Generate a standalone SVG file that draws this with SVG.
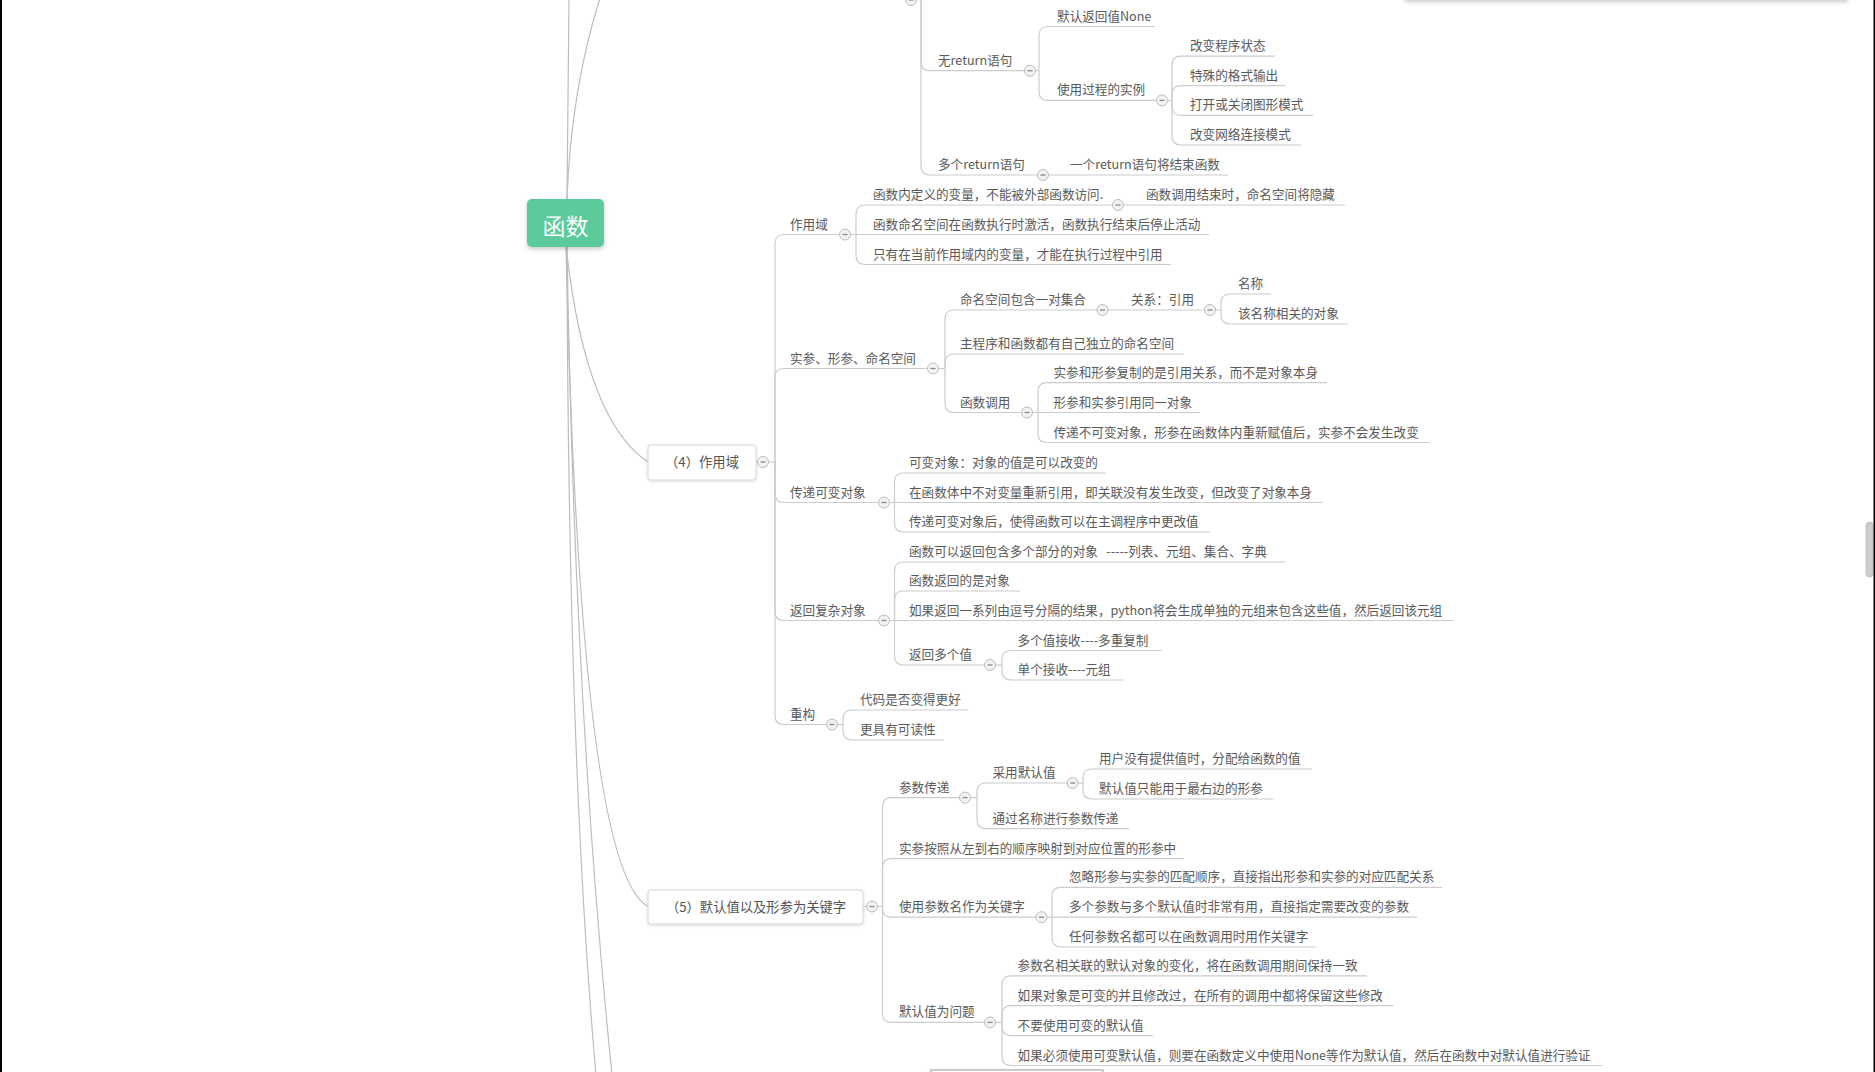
<svg xmlns="http://www.w3.org/2000/svg" xmlns:xlink="http://www.w3.org/1999/xlink" width="1875" height="1072" viewBox="0 0 1875 1072">
<defs>
<style>
.t{font-family:"Noto Sans CJK SC","Microsoft YaHei",sans-serif;font-size:12.6px;fill:#5a5a5a}
.bt{font-family:"Noto Sans CJK SC","Microsoft YaHei",sans-serif;font-size:13.3px;fill:#555}
.ln{fill:none;stroke:#cccccc;stroke-width:1.2}
.rl{fill:none;stroke:#bdbdbd;stroke-width:1.2}
.box{fill:#fff;stroke:#d6d6d6;stroke-width:1}
</style>
<filter id="sh" x="-20%" y="-20%" width="140%" height="160%"><feDropShadow dx="0" dy="2" stdDeviation="2" flood-color="#000" flood-opacity="0.22"/></filter>
<filter id="sh2" x="-10%" y="-20%" width="120%" height="160%"><feDropShadow dx="0" dy="1" stdDeviation="1.5" flood-color="#000" flood-opacity="0.15"/></filter>
<g id="btn"><circle r="5.5" fill="#f2f2f2" stroke="#bdbdbd" stroke-width="1"/><line x1="-2.5" y1="0" x2="2.5" y2="0" stroke="#8a8a8a" stroke-width="1.3"/></g>
</defs>
<rect x="0" y="0" width="1875" height="1072" fill="#fff"/>

<g id="connectors">
<!-- root -->
<path class="rl" d="M567,199 L569,-2"/>
<path class="rl" d="M567,199 Q571,90 600,-2"/>
<path class="rl" d="M566,246 Q585,420 648,462"/>
<path class="rl" d="M566,246 Q580,870 648,906.5"/>
<path class="rl" d="M567,246 Q568,760 596,1075"/>
<path class="rl" d="M567,246 Q574,700 612,1075"/>
<!-- top section -->
<path class="ln" d="M921,-5 V61.7 Q921,70.7 930,70.7 H1030"/>
<path class="ln" d="M921,-5 V166 Q921,175 930,175 H1043"/>
<path class="ln" d="M1035.5,70.7 H1039"/>
<path class="ln" d="M1039,70.7 V35.5 Q1039,26.5 1048,26.5 H1155"/>
<path class="ln" d="M1039,70.7 V91.4 Q1039,100.4 1048,100.4 H1162"/>
<path class="ln" d="M1167.5,100.4 H1172"/>
<path class="ln" d="M1172,100.4 V65.2 Q1172,56.2 1181,56.2 H1275"/>
<path class="ln" d="M1172,100.4 V94.7 Q1172,85.7 1181,85.7 H1285"/>
<path class="ln" d="M1172,100.4 V106.3 Q1172,115.3 1181,115.3 H1313"/>
<path class="ln" d="M1172,100.4 V136 Q1172,145 1181,145 H1301"/>
<path class="ln" d="M1048.5,175 H1228"/>
<!-- (4) -->
<path class="ln" d="M756,462 H775"/>
<path class="ln" d="M775,462 V243.5 Q775,234.5 784,234.5 H845"/>
<path class="ln" d="M775,462 V377.5 Q775,368.5 784,368.5 H933"/>
<path class="ln" d="M775,462 V493.5 Q775,502.5 784,502.5 H884"/>
<path class="ln" d="M775,462 V611.5 Q775,620.5 784,620.5 H884"/>
<path class="ln" d="M775,462 V715.5 Q775,724.5 784,724.5 H832"/>
<path class="ln" d="M850.5,234.5 H1209"/>
<path class="ln" d="M856,234.5 V214 Q856,205 865,205 H1118"/>
<path class="ln" d="M856,234.5 V255.5 Q856,264.5 865,264.5 H1171"/>
<path class="ln" d="M1123.5,205 H1345"/>
<path class="ln" d="M938.5,368.5 H945"/>
<path class="ln" d="M945,368.5 V319 Q945,310 954,310 H1102.5"/>
<path class="ln" d="M945,368.5 V363 Q945,354 954,354 H1184"/>
<path class="ln" d="M945,368.5 V403.5 Q945,412.5 954,412.5 H1027"/>
<path class="ln" d="M1108,310 H1210"/>
<path class="ln" d="M1215.5,310 H1221"/>
<path class="ln" d="M1221,310 V303 Q1221,294 1230,294 H1271"/>
<path class="ln" d="M1221,310 V315 Q1221,324 1230,324 H1348"/>
<path class="ln" d="M1032.5,412.5 H1200"/>
<path class="ln" d="M1038,412.5 V391.7 Q1038,382.7 1047,382.7 H1327"/>
<path class="ln" d="M1038,412.5 V433.5 Q1038,442.5 1047,442.5 H1429"/>
<path class="ln" d="M889.5,502.5 H1322.5"/>
<path class="ln" d="M894.5,502.5 V482 Q894.5,473 903.5,473 H1106"/>
<path class="ln" d="M894.5,502.5 V523 Q894.5,532 903.5,532 H1210"/>
<path class="ln" d="M889.5,620.5 H1453"/>
<path class="ln" d="M894.5,620.5 V571 Q894.5,562 903.5,562 H1285"/>
<path class="ln" d="M894.5,620.5 V600 Q894.5,591 903.5,591 H1020"/>
<path class="ln" d="M894.5,620.5 V656 Q894.5,665 903.5,665 H990"/>
<path class="ln" d="M995.5,665 H1002"/>
<path class="ln" d="M1002,665 V659.5 Q1002,650.5 1011,650.5 H1162"/>
<path class="ln" d="M1002,665 V671 Q1002,680 1011,680 H1124"/>
<path class="ln" d="M837.5,724.5 H843"/>
<path class="ln" d="M843,724.5 V719 Q843,710 852,710 H968.6"/>
<path class="ln" d="M843,724.5 V731 Q843,740 852,740 H943.5"/>
<!-- (5) -->
<path class="ln" d="M863,906.5 H882.5"/>
<path class="ln" d="M882.5,906.5 V806.6 Q882.5,797.6 891.5,797.6 H965"/>
<path class="ln" d="M882.5,906.5 V867.6 Q882.5,858.6 891.5,858.6 H1184"/>
<path class="ln" d="M882.5,906.5 V908.2 Q882.5,917.2 891.5,917.2 H1041.5"/>
<path class="ln" d="M882.5,906.5 V1013.4 Q882.5,1022.4 891.5,1022.4 H990"/>
<path class="ln" d="M970.5,797.6 H977"/>
<path class="ln" d="M977,797.6 V792 Q977,783 986,783 H1072.6"/>
<path class="ln" d="M977,797.6 V819.7 Q977,828.7 986,828.7 H1129"/>
<path class="ln" d="M1078,783 H1083"/>
<path class="ln" d="M1083,783 V778 Q1083,769 1092,769 H1312"/>
<path class="ln" d="M1083,783 V790 Q1083,799 1092,799 H1273.5"/>
<path class="ln" d="M1047,917.2 H1417"/>
<path class="ln" d="M1052,917.2 V896.3 Q1052,887.3 1061,887.3 H1442"/>
<path class="ln" d="M1052,917.2 V938 Q1052,947 1061,947 H1316.6"/>
<path class="ln" d="M995.5,1022.4 H1002"/>
<path class="ln" d="M1002,1022.4 V984.8 Q1002,975.8 1011,975.8 H1367"/>
<path class="ln" d="M1002,1022.4 V1014.7 Q1002,1005.7 1011,1005.7 H1393"/>
<path class="ln" d="M1002,1022.4 V1026.6 Q1002,1035.6 1011,1035.6 H1152.7"/>
<path class="ln" d="M1002,1022.4 V1056.5 Q1002,1065.5 1011,1065.5 H1602"/>
</g>

<g id="root"><rect x="527" y="199" width="77" height="48" rx="5" fill="#5bcb9b" filter="url(#sh)"/><text x="565.5" y="234.5" text-anchor="middle" font-family="Noto Sans CJK SC, sans-serif" font-size="23" fill="#fff">函数</text></g>

<g id="n-top"><use xlink:href="#btn" x="911" y="0"/></g>
<g id="n-noreturn"><text class="t" x="938" y="64.7">无return语句</text><use xlink:href="#btn" x="1030" y="70.7"/></g>
<g id="n-none"><text class="t" x="1057" y="20.5">默认返回值None</text></g>
<g id="n-proc"><text class="t" x="1057" y="94.4">使用过程的实例</text><use xlink:href="#btn" x="1162" y="100.4"/></g>
<g id="n-p1"><text class="t" x="1190" y="50.2">改变程序状态</text></g>
<g id="n-p2"><text class="t" x="1190" y="79.7">特殊的格式输出</text></g>
<g id="n-p3"><text class="t" x="1190" y="109.3">打开或关闭图形模式</text></g>
<g id="n-p4"><text class="t" x="1190" y="139">改变网络连接模式</text></g>
<g id="n-multireturn"><text class="t" x="938" y="169">多个return语句</text><use xlink:href="#btn" x="1043" y="175"/></g>
<g id="n-onereturn"><text class="t" x="1070" y="169">一个return语句将结束函数</text></g>

<g id="n-s4"><rect class="box" x="648" y="445" width="108" height="35" rx="3" filter="url(#sh2)"/><text class="bt" x="702" y="467" text-anchor="middle">（4）作用域</text><use xlink:href="#btn" x="763" y="462"/></g>
<g id="n-scope"><text class="t" x="790" y="228.5">作用域</text><use xlink:href="#btn" x="845" y="234.5"/></g>
<g id="n-sc1"><text class="t" x="873" y="199">函数内定义的变量，不能被外部函数访问.</text><use xlink:href="#btn" x="1118" y="205"/></g>
<g id="n-sc1a"><text class="t" x="1146" y="199">函数调用结束时，命名空间将隐藏</text></g>
<g id="n-sc2"><text class="t" x="873" y="228.5">函数命名空间在函数执行时激活，函数执行结束后停止活动</text></g>
<g id="n-sc3"><text class="t" x="873" y="258.5">只有在当前作用域内的变量，才能在执行过程中引用</text></g>
<g id="n-args"><text class="t" x="790" y="362.5">实参、形参、命名空间</text><use xlink:href="#btn" x="933" y="368.5"/></g>
<g id="n-ns"><text class="t" x="960" y="304">命名空间包含一对集合</text><use xlink:href="#btn" x="1102.5" y="310"/></g>
<g id="n-rel"><text class="t" x="1131" y="304">关系：引用</text><use xlink:href="#btn" x="1210" y="310"/></g>
<g id="n-name"><text class="t" x="1238" y="288">名称</text></g>
<g id="n-obj"><text class="t" x="1238" y="318">该名称相关的对象</text></g>
<g id="n-own"><text class="t" x="960" y="348">主程序和函数都有自己独立的命名空间</text></g>
<g id="n-call"><text class="t" x="960" y="406.5">函数调用</text><use xlink:href="#btn" x="1027" y="412.5"/></g>
<g id="n-c1"><text class="t" x="1053.5" y="376.7">实参和形参复制的是引用关系，而不是对象本身</text></g>
<g id="n-c2"><text class="t" x="1053.5" y="406.5">形参和实参引用同一对象</text></g>
<g id="n-c3"><text class="t" x="1053.5" y="436.5">传递不可变对象，形参在函数体内重新赋值后，实参不会发生改变</text></g>
<g id="n-mutable"><text class="t" x="790" y="496.5">传递可变对象</text><use xlink:href="#btn" x="884" y="502.5"/></g>
<g id="n-m1"><text class="t" x="909" y="467">可变对象：对象的值是可以改变的</text></g>
<g id="n-m2"><text class="t" x="909" y="496.5">在函数体中不对变量重新引用，即关联没有发生改变，但改变了对象本身</text></g>
<g id="n-m3"><text class="t" x="909" y="526">传递可变对象后，使得函数可以在主调程序中更改值</text></g>
<g id="n-complex"><text class="t" x="790" y="614.5">返回复杂对象</text><use xlink:href="#btn" x="884" y="620.5"/></g>
<g id="n-r1"><text class="t" x="909" y="556">函数可以返回包含多个部分的对象&#160;&#160;&#160;-----列表、元组、集合、字典</text></g>
<g id="n-r2"><text class="t" x="909" y="585">函数返回的是对象</text></g>
<g id="n-r3"><text class="t" x="909" y="614.5">如果返回一系列由逗号分隔的结果，python将会生成单独的元组来包含这些值，然后返回该元组</text></g>
<g id="n-r4"><text class="t" x="909" y="659">返回多个值</text><use xlink:href="#btn" x="990" y="665"/></g>
<g id="n-r4a"><text class="t" x="1017.6" y="644.5">多个值接收----多重复制</text></g>
<g id="n-r4b"><text class="t" x="1017.6" y="674">单个接收----元组</text></g>
<g id="n-refactor"><text class="t" x="790" y="718.5">重构</text><use xlink:href="#btn" x="832" y="724.5"/></g>
<g id="n-f1"><text class="t" x="860" y="704">代码是否变得更好</text></g>
<g id="n-f2"><text class="t" x="860" y="734">更具有可读性</text></g>

<g id="n-s5"><rect class="box" x="648" y="890" width="215" height="34" rx="3" filter="url(#sh2)"/><text class="bt" x="756" y="911.5" text-anchor="middle">（5）默认值以及形参为关键字</text><use xlink:href="#btn" x="872" y="906.5"/></g>
<g id="n-pass"><text class="t" x="899" y="791.6">参数传递</text><use xlink:href="#btn" x="965" y="797.6"/></g>
<g id="n-default"><text class="t" x="992.5" y="777">采用默认值</text><use xlink:href="#btn" x="1072.6" y="783"/></g>
<g id="n-d1"><text class="t" x="1099" y="763">用户没有提供值时，分配给函数的值</text></g>
<g id="n-d2"><text class="t" x="1099" y="793">默认值只能用于最右边的形参</text></g>
<g id="n-byname"><text class="t" x="992.5" y="822.7">通过名称进行参数传递</text></g>
<g id="n-order"><text class="t" x="899" y="852.6">实参按照从左到右的顺序映射到对应位置的形参中</text></g>
<g id="n-kw"><text class="t" x="899" y="911.2">使用参数名作为关键字</text><use xlink:href="#btn" x="1041.5" y="917.2"/></g>
<g id="n-k1"><text class="t" x="1069" y="881.3">忽略形参与实参的匹配顺序，直接指出形参和实参的对应匹配关系</text></g>
<g id="n-k2"><text class="t" x="1069" y="911.2">多个参数与多个默认值时非常有用，直接指定需要改变的参数</text></g>
<g id="n-k3"><text class="t" x="1069" y="941">任何参数名都可以在函数调用时用作关键字</text></g>
<g id="n-prob"><text class="t" x="899" y="1016.4">默认值为问题</text><use xlink:href="#btn" x="990" y="1022.4"/></g>
<g id="n-q1"><text class="t" x="1017.6" y="969.8">参数名相关联的默认对象的变化，将在函数调用期间保持一致</text></g>
<g id="n-q2"><text class="t" x="1017.6" y="999.7">如果对象是可变的并且修改过，在所有的调用中都将保留这些修改</text></g>
<g id="n-q3"><text class="t" x="1017.6" y="1029.6">不要使用可变的默认值</text></g>
<g id="n-q4"><text class="t" x="1017.6" y="1059.5">如果必须使用可变默认值，则要在函数定义中使用None等作为默认值，然后在函数中对默认值进行验证</text></g>

<!-- window chrome -->
<rect x="1405" y="-20" width="443" height="20" fill="#fff" filter="url(#sh)"/>
<rect x="931" y="1070" width="172" height="20" fill="#fff" stroke="#999" stroke-width="1" filter="url(#sh2)"/>
<rect x="1866" y="522" width="7" height="55" rx="3.5" fill="#cdcdcd" stroke="#bbb" stroke-width="0.8"/>
<rect x="0" y="0" width="2" height="1072" fill="#000"/>
<rect x="1873.5" y="0" width="1.5" height="1072" fill="#000"/>
</svg>
